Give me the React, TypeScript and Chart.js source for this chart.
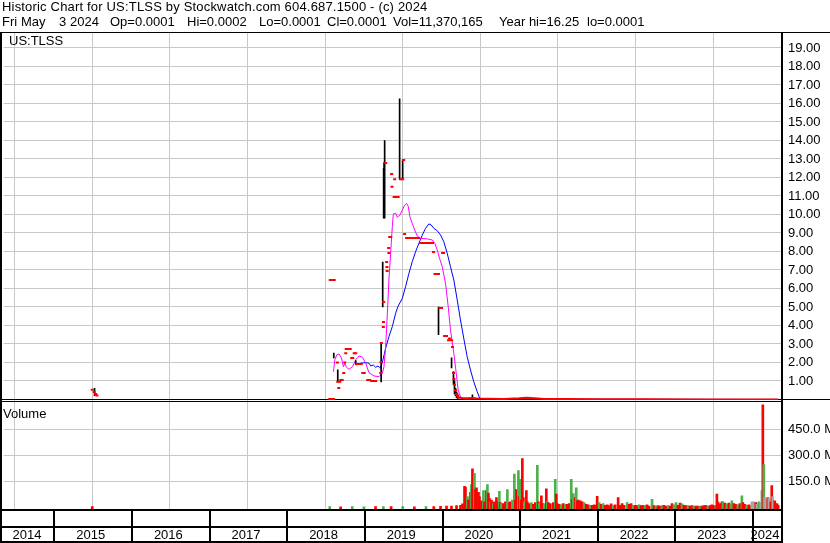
import { useEffect, useRef } from 'react';
import { Chart, registerables } from 'chart.js';

Chart.register(...registerables);

// ---- text ----
const TITLE = 'Historic Chart for US:TLSS by Stockwatch.com 604.687.1500 - (c) 2024';
// quote line, as [left edge in px, text] columns
const QUOTE_FIELDS: [number, string][] = [
  [2, 'Fri'],
  [21, 'May'],
  [59, '3'],
  [70, '2024'],
  [110, 'Op=0.0001'],
  [187, 'Hi=0.0002'],
  [259, 'Lo=0.0001'],
  [327, 'Cl=0.0001'],
  [393, 'Vol=11,370,165'],
  [499, 'Year hi=16.25'],
  [587, 'lo=0.0001'],
];
const SYMBOL = 'US:TLSS';
const VOLUME_TITLE = 'Volume';

// ---- axes ----
const YEAR_LABELS = [2014, 2015, 2016, 2017, 2018, 2019, 2020, 2021, 2022, 2023, 2024];
const PRICE_TICKS = [1, 2, 3, 4, 5, 6, 7, 8, 9, 10, 11, 12, 13, 14, 15, 16, 17, 18, 19];
const VOLUME_TICKS = [150, 300, 450];
const DATE_START = 2014.357;
const DATE_END = 2024.373;
const PRICE_MIN = -0.03;
const PRICE_MAX = 19.81;
const VOLUME_MIN = -11.5;
const VOLUME_MAX = 617.5;

// ---- price data (dates as decimal years) ----
// daily high-low ranges: [date, low, high]
const RANGES: [number, number, number][] = [
  [2015.53, 0.2, 0.6],
  [2018.612, 2.24, 2.5],
  [2018.663, 0.95, 1.6],
  [2018.895, 1.9, 2.1],
  [2019.222, 0.95, 3.05],
  [2019.242, 5.0, 7.43],
  [2019.254, 9.8, 12.5],
  [2019.26, 9.9, 12.8],
  [2019.267, 9.8, 14.0],
  [2019.46, 11.9, 16.25],
  [2019.499, 11.9, 12.95],
  [2019.961, 3.5, 5.0],
  [2020.129, 1.7, 2.25],
  [2020.154, 0.8, 1.5],
  [2020.167, 0.3, 1.0],
  [2020.18, 0.2, 0.6],
  [2020.193, 0.1, 0.4],
  [2020.206, 0.05, 0.3],
  [2020.398, 0.05, 0.25],
  [2021.135, 0.02, 0.1],
];

// daily closes: [date, close]
const CLOSES: [number, number][] = [
  [2015.5, 0.52], [2015.525, 0.4], [2015.545, 0.3], [2015.56, 0.22],
  [2018.56, 0.02], [2018.585, 0.02], [2018.61, 0.02],
  [2018.567, 6.46], [2018.593, 6.46], [2018.618, 6.46],
  [2018.657, 2.0], [2018.663, 0.95], [2018.676, 0.62], [2018.689, 0.95],
  [2018.702, 1.05], [2018.721, 1.05], [2018.74, 1.43], [2018.753, 2.0],
  [2018.766, 2.5], [2018.772, 2.73], [2018.798, 2.73], [2018.824, 2.73],
  [2018.843, 2.24], [2018.856, 2.24], [2018.875, 2.5], [2018.895, 2.5],
  [2018.914, 1.92], [2018.94, 1.92], [2018.965, 1.92], [2018.985, 1.43],
  [2019.004, 1.43], [2019.049, 1.05], [2019.075, 1.05], [2019.1, 1.0],
  [2019.126, 1.0], [2019.152, 1.0], [2019.216, 1.43], [2019.22, 2.03],
  [2019.225, 3.05], [2019.25, 3.92], [2019.252, 4.19], [2019.254, 5.27],
  [2019.28, 12.78], [2019.293, 7.43], [2019.296, 7.16], [2019.299, 6.95],
  [2019.319, 8.19], [2019.322, 7.92], [2019.332, 8.78], [2019.345, 8.78],
  [2019.357, 12.19], [2019.362, 11.5], [2019.389, 10.95], [2019.396, 11.9],
  [2019.415, 10.95], [2019.441, 10.95], [2019.473, 11.9], [2019.499, 11.9],
  [2019.512, 12.95], [2019.524, 8.95], [2019.55, 8.73], [2019.576, 8.73],
  [2019.601, 8.73], [2019.627, 8.73], [2019.653, 8.73], [2019.679, 8.73],
  [2019.704, 8.73], [2019.73, 8.46], [2019.756, 8.46], [2019.781, 8.46],
  [2019.807, 8.46], [2019.833, 8.46], [2019.859, 8.46], [2019.884, 8.46],
  [2019.897, 7.97], [2019.916, 6.78], [2019.942, 6.78], [2019.961, 6.78],
  [2019.981, 4.95], [2020.0, 4.95], [2020.013, 7.92], [2020.026, 7.92],
  [2020.039, 3.43], [2020.064, 3.43], [2020.09, 3.2], [2020.103, 3.3],
  [2020.129, 3.2], [2020.141, 2.84], [2020.154, 1.43], [2020.16, 1.1],
  [2020.167, 0.8], [2020.18, 0.5], [2020.193, 0.3], [2020.206, 0.2],
  [2020.219, 0.1],
];

// sub-penny closes after the collapse: [date, close]
const PENNY_CLOSES: [number, number][] = [
  [2020.219, 0.1], [2020.26, 0.08], [2020.32, 0.06], [2020.4, 0.08],
  [2020.46, 0.05], [2020.6, 0.04], [2020.8, 0.03], [2021.0, 0.06],
  [2021.1, 0.09], [2021.2, 0.06], [2021.32, 0.03], [2021.6, 0.02],
  [2022.0, 0.01], [2022.6, 0.005], [2023.3, 0.002], [2023.9, 0.001],
  [2024.336, 0.0001],
];

// short moving average: [date, value]
const MA_FAST: [number, number][] = [
  [2018.608, 1.5], [2018.625, 2.14], [2018.65, 2.41], [2018.68, 2.46],
  [2018.711, 2.24], [2018.736, 1.76], [2018.753, 1.96], [2018.775, 1.74],
  [2018.808, 1.63], [2018.852, 1.77], [2018.894, 2.14], [2018.937, 2.35],
  [2018.981, 2.28], [2019.023, 1.96], [2019.065, 1.45], [2019.13, 1.27],
  [2019.194, 1.23], [2019.238, 1.42], [2019.258, 1.77], [2019.28, 2.85],
  [2019.302, 4.66], [2019.322, 6.46], [2019.344, 7.9], [2019.366, 9.34],
  [2019.379, 10.03], [2019.409, 10.06], [2019.43, 9.85], [2019.464, 9.97],
  [2019.495, 10.24], [2019.524, 10.51], [2019.55, 10.6], [2019.572, 10.42],
  [2019.592, 9.88], [2019.623, 9.52], [2019.653, 9.16], [2019.687, 8.84],
  [2019.73, 8.71], [2019.816, 8.68], [2019.88, 8.62], [2019.914, 8.44],
  [2019.944, 8.08], [2019.974, 7.63], [2020.009, 7.18], [2020.051, 6.28],
  [2020.086, 5.02], [2020.115, 3.76], [2020.158, 2.5], [2020.189, 1.42],
  [2020.214, 0.51], [2020.244, 0.15], [2020.286, 0.03], [2020.373, 0.02],
];

// long moving average: [date, value]
const MA_SLOW: [number, number][] = [
  [2018.894, 1.86], [2018.958, 1.96], [2019.023, 1.99], [2019.065, 1.96],
  [2019.087, 1.81], [2019.122, 1.86], [2019.151, 1.74], [2019.181, 1.81],
  [2019.216, 1.69], [2019.245, 2.14], [2019.28, 2.77], [2019.322, 3.39],
  [2019.366, 3.94], [2019.409, 4.66], [2019.438, 5.02], [2019.495, 5.47],
  [2019.537, 6.1], [2019.58, 6.82], [2019.623, 7.45], [2019.666, 7.99],
  [2019.708, 8.44], [2019.752, 8.89], [2019.794, 9.25], [2019.837, 9.49],
  [2019.867, 9.43], [2019.901, 9.25], [2019.944, 9.12], [2019.987, 8.89],
  [2020.029, 8.53], [2020.073, 7.9], [2020.115, 7.18], [2020.158, 6.46],
  [2020.202, 5.38], [2020.244, 4.3], [2020.286, 3.31], [2020.33, 2.31],
  [2020.373, 1.59], [2020.415, 0.96], [2020.459, 0.42], [2020.492, 0.06],
  [2020.63, 0.02], [2024.336, 0.0001],
];

// daily volume: [date, millions of shares, direction (1 up, -1 down, 0 unchanged)]
const VOLUMES: [number, number, number][] = [
  [2015.5, 2, -1], [2018.56, 2, 1], [2018.7, 1, -1], [2018.85, 2, 1],
  [2019.0, 1, 1], [2019.15, 2, -1], [2019.25, 3, 1], [2019.35, 2, -1],
  [2019.5, 2, 1], [2019.65, 1, -1], [2019.8, 2, 1], [2019.9, 3, -1],
  [2019.987, 4, -1], [2020.064, 5, -1], [2020.128, 6, -1], [2020.193, 8, -1],
  [2020.244, 10, -1], [2020.27, 18, -1], [2020.296, 119, -1], [2020.308, 115, -1],
  [2020.334, 60, 1], [2020.347, 40, -1], [2020.373, 85, -1], [2020.385, 130, 1],
  [2020.398, 220, -1], [2020.424, 195, 1], [2020.437, 100, -1], [2020.45, 110, -1],
  [2020.476, 85, -1], [2020.488, 60, -1], [2020.514, 35, -1], [2020.54, 95, 1],
  [2020.553, 30, -1], [2020.578, 95, -1], [2020.591, 130, 1], [2020.604, 80, -1],
  [2020.617, 50, -1], [2020.63, 30, 1], [2020.643, 40, -1], [2020.655, 25, -1],
  [2020.668, 20, 1], [2020.681, 30, -1], [2020.707, 55, -1], [2020.72, 30, -1],
  [2020.745, 90, 1], [2020.758, 25, -1], [2020.771, 20, 1], [2020.797, 20, -1],
  [2020.823, 30, -1], [2020.848, 100, 1], [2020.874, 25, -1], [2020.887, 30, -1],
  [2020.913, 40, 1], [2020.938, 190, 1], [2020.951, 40, -1], [2020.964, 100, -1],
  [2020.99, 210, 1], [2021.003, 60, -1], [2021.015, 160, 1], [2021.028, 40, -1],
  [2021.041, 280, -1], [2021.054, 55, -1], [2021.067, 30, 1], [2021.093, 95, -1],
  [2021.105, 30, -1], [2021.131, 20, -1], [2021.157, 25, 1], [2021.183, 15, -1],
  [2021.208, 25, -1], [2021.234, 240, 1], [2021.247, 30, -1], [2021.26, 20, 1],
  [2021.286, 65, -1], [2021.311, 20, -1], [2021.324, 15, 1], [2021.35, 105, -1],
  [2021.363, 30, 1], [2021.375, 25, -1], [2021.401, 20, -1], [2021.427, 15, 1],
  [2021.44, 25, -1], [2021.465, 160, 1], [2021.478, 75, -1], [2021.491, 20, -1],
  [2021.517, 15, -1], [2021.542, 12, 1], [2021.568, 20, -1], [2021.594, 15, 1],
  [2021.619, 15, -1], [2021.645, 20, -1], [2021.671, 160, 1], [2021.684, 45, -1],
  [2021.697, 78, 1], [2021.722, 55, -1], [2021.735, 110, 1], [2021.748, 36, -1],
  [2021.761, 40, -1], [2021.787, 35, -1], [2021.812, 30, -1], [2021.838, 25, 1],
  [2021.864, 15, -1], [2021.889, 12, -1], [2021.915, 10, 1], [2021.941, 10, -1],
  [2021.966, 12, -1], [2021.992, 10, -1], [2022.005, 62, -1], [2022.031, 25, 1],
  [2022.056, 15, -1], [2022.082, 20, 1], [2022.108, 10, -1], [2022.134, 12, -1],
  [2022.159, 8, -1], [2022.185, 18, -1], [2022.211, 10, 1], [2022.237, 12, -1],
  [2022.275, 55, -1], [2022.301, 10, -1], [2022.326, 20, -1], [2022.352, 10, -1],
  [2022.391, 25, 1], [2022.416, 15, -1], [2022.442, 20, -1], [2022.468, 10, 1],
  [2022.494, 10, -1], [2022.519, 8, -1], [2022.545, 12, 1], [2022.571, 8, -1],
  [2022.596, 10, -1], [2022.622, 8, 1], [2022.648, 12, -1], [2022.674, 6, -1],
  [2022.712, 45, 1], [2022.738, 8, -1], [2022.764, 6, 1], [2022.789, 8, -1],
  [2022.815, 6, -1], [2022.841, 8, 1], [2022.866, 10, -1], [2022.892, 6, -1],
  [2022.918, 8, 1], [2022.944, 6, -1], [2022.969, 20, -1], [2022.995, 12, 1],
  [2023.021, 25, 1], [2023.046, 10, -1], [2023.072, 22, -1], [2023.098, 18, 1],
  [2023.123, 10, -1], [2023.149, 8, -1], [2023.175, 8, 1], [2023.201, 6, -1],
  [2023.226, 8, -1], [2023.252, 6, 1], [2023.278, 6, -1], [2023.303, 5, -1],
  [2023.329, 6, 1], [2023.355, 5, -1], [2023.38, 8, -1], [2023.406, 10, -1],
  [2023.432, 6, 1], [2023.458, 8, -1], [2023.483, 12, -1], [2023.509, 8, -1],
  [2023.535, 10, 1], [2023.547, 75, -1], [2023.56, 30, -1], [2023.586, 20, -1],
  [2023.612, 30, -1], [2023.625, 30, 1], [2023.651, 22, -1], [2023.676, 18, 1],
  [2023.702, 22, -1], [2023.728, 15, 1], [2023.74, 35, 1], [2023.766, 20, -1],
  [2023.792, 15, -1], [2023.817, 12, 1], [2023.843, 20, -1], [2023.869, 65, 1],
  [2023.882, 25, -1], [2023.908, 15, -1], [2023.933, 10, 1], [2023.959, 12, -1],
  [2023.985, 8, -1], [2023.997, 30, 0], [2024.023, 30, 0], [2024.049, 25, -1],
  [2024.062, 15, 0], [2024.087, 30, 1], [2024.113, 25, 0], [2024.126, 95, 0],
  [2024.139, 590, -1], [2024.152, 245, 1], [2024.165, 55, 0], [2024.177, 45, 0],
  [2024.203, 55, -1], [2024.216, 50, 0], [2024.242, 30, -1], [2024.254, 123, -1],
  [2024.267, 60, 0], [2024.293, 35, -1], [2024.319, 20, -1], [2024.336, 11, -1],
];

// ---- styling ----
const FONT_FAMILY = '"Liberation Sans", Arial, sans-serif';
const FONT = `13px ${FONT_FAMILY}`;
const GRID = '#c8c8c8';
const RED = '#ff0000';
const GREEN = '#4cb04c';
const GREY = '#a8a8a8';
const MAGENTA = '#ff00ff';
const BLUE = '#0000ff';

const directionColor = (d: number) => (d > 0 ? GREEN : d < 0 ? RED : GREY);

const framePlugin = {
  id: 'stockFrame',
  beforeDraw(chart: any) {
    const { ctx, width, height } = chart;
    ctx.save();
    ctx.fillStyle = '#ffffff';
    ctx.fillRect(0, 0, width, height);
    ctx.restore();
  },
  beforeDatasetsDraw(chart: any) {
    const { ctx, width } = chart;
    const price = chart.scales.price;
    ctx.save();
    ctx.fillStyle = '#000';
    ctx.fillRect(0, Math.round(price.bottom) - 1, width, 1);
    ctx.restore();
  },
  afterDraw(chart: any) {
    const { ctx, width, height, chartArea } = chart;
    const x = chart.scales.x;
    const vol = chart.scales.volume;
    const right = Math.round(chartArea.right);
    const volTop = Math.round(vol.top);
    const volBottom = Math.round(vol.bottom);
    ctx.save();
    ctx.fillStyle = '#000';
    ctx.font = FONT;
    ctx.textBaseline = 'alphabetic';
    ctx.textAlign = 'left';

    // header
    (ctx as any).letterSpacing = '0.18px';
    ctx.fillText(TITLE, 2, 11);
    (ctx as any).letterSpacing = '0px';
    QUOTE_FIELDS.forEach(([left, text]) => ctx.fillText(text, left, 26));

    // frame rules
    ctx.fillRect(0, 32, width, 1);
    ctx.fillRect(0, 32, 2, height - 32);
    ctx.fillRect(right, 32, 2, height - 32);
    ctx.fillRect(0, volTop + 1, right + 2, 1);
    ctx.fillRect(0, volBottom, right + 2, 2);
    ctx.fillRect(0, volBottom + 17, right + 2, 2);
    ctx.fillRect(0, height - 2, right + 2, 2);

    // pane titles
    ctx.fillText(SYMBOL, 9, 45);
    ctx.fillText(VOLUME_TITLE, 3, volTop + 18);

    // year row
    ctx.textAlign = 'center';
    YEAR_LABELS.forEach((yr) => {
      const start = Math.max(chartArea.left, x.getPixelForValue(yr));
      const end = Math.min(chartArea.right, x.getPixelForValue(yr + 1));
      if (yr > YEAR_LABELS[0]) {
        ctx.fillRect(Math.round(start), volBottom, 2, height - volBottom);
      }
      ctx.fillText(String(yr), (start + end) / 2 - 1.5, height - 4);
    });
    ctx.restore();
  },
};

export default function App() {
  const canvasRef = useRef<HTMLCanvasElement>(null);

  useEffect(() => {
    const canvas = canvasRef.current;
    if (!canvas) return;

    const tickFont = { family: FONT_FAMILY, size: 13 };

    const chart = new Chart(canvas, {
      type: 'line',
      data: {
        datasets: [
          {
            type: 'scatter',
            label: 'Close',
            yAxisID: 'price',
            data: CLOSES.map(([d, c]) => ({ x: d, y: c })),
            showLine: false,
            pointStyle: 'line',
            pointRadius: 1.5,
            pointHoverRadius: 1.5,
            pointBorderWidth: 2,
            pointBorderColor: RED,
            pointBackgroundColor: RED,
            borderColor: RED,
            order: 0,
          },
          {
            type: 'line',
            label: 'Close',
            yAxisID: 'price',
            data: PENNY_CLOSES.map(([d, c]) => ({ x: d, y: c })),
            borderColor: RED,
            borderWidth: 2,
            pointRadius: 0,
            tension: 0,
            order: 1,
          },
          {
            type: 'bar',
            label: 'Range',
            yAxisID: 'price',
            data: RANGES.map(([d, lo, hi]) => ({ x: d, y: [lo, hi] })),
            backgroundColor: '#000',
            barThickness: 1,
            grouped: false,
            order: 2,
          },
          {
            type: 'line',
            label: 'MA short',
            yAxisID: 'price',
            data: MA_FAST.map(([d, v]) => ({ x: d, y: v })),
            borderColor: MAGENTA,
            borderWidth: 1,
            pointRadius: 0,
            tension: 0,
            order: 3,
          },
          {
            type: 'line',
            label: 'MA long',
            yAxisID: 'price',
            data: MA_SLOW.map(([d, v]) => ({ x: d, y: v })),
            borderColor: BLUE,
            borderWidth: 1,
            pointRadius: 0,
            tension: 0,
            order: 4,
          },
          {
            type: 'bar',
            label: 'Volume',
            yAxisID: 'volume',
            data: VOLUMES.map(([d, v]) => ({ x: d, y: v })),
            backgroundColor: VOLUMES.map(([, , dir]) => directionColor(dir)),
            barThickness: 2,
            grouped: false,
            base: VOLUME_MIN,
            order: 5,
          },
        ] as any,
      },
      options: {
        responsive: false,
        animation: false,
        devicePixelRatio: 1,
        events: [],
        layout: { padding: { left: 2, top: 33, right: 0, bottom: 34 } },
        plugins: {
          legend: { display: false },
          tooltip: { enabled: false },
        },
        scales: {
          x: {
            type: 'linear',
            min: DATE_START,
            max: DATE_END,
            offset: false,
            grid: { color: GRID, drawTicks: false },
            border: { display: false },
            ticks: { display: false },
            afterBuildTicks: (s: any) => {
              s.ticks = YEAR_LABELS.slice(1).map((v) => ({ value: v }));
            },
            afterFit: (s: any) => {
              s.height = 0;
            },
          },
          price: {
            type: 'linear',
            position: 'right',
            stack: 'panes',
            stackWeight: 367,
            min: PRICE_MIN,
            max: PRICE_MAX,
            grid: { color: GRID, drawTicks: false },
            border: { display: false },
            ticks: {
              autoSkip: false,
              padding: 7,
              color: '#000',
              font: tickFont,
              callback: (v: any) => Number(v).toFixed(2),
            },
            afterBuildTicks: (s: any) => {
              s.ticks = PRICE_TICKS.map((v) => ({ value: v }));
            },
            afterFit: (s: any) => {
              s.width = 49;
            },
          },
          volume: {
            type: 'linear',
            position: 'right',
            stack: 'panes',
            stackWeight: 109,
            min: VOLUME_MIN,
            max: VOLUME_MAX,
            grid: { color: GRID, drawTicks: false },
            border: { display: false },
            ticks: {
              autoSkip: false,
              padding: 7,
              color: '#000',
              font: tickFont,
              callback: (v: any) => `${Number(v).toFixed(1)} M`,
            },
            afterBuildTicks: (s: any) => {
              s.ticks = VOLUME_TICKS.map((v) => ({ value: v }));
            },
            afterFit: (s: any) => {
              s.width = 49;
            },
          },
        },
      } as any,
      plugins: [framePlugin],
    });

    return () => chart.destroy();
  }, []);

  return (
    <div style={{ position: 'absolute', left: 0, top: 0, width: 830, height: 543, background: '#fff' }}>
      <canvas ref={canvasRef} width={830} height={543} style={{ display: 'block' }} />
    </div>
  );
}
